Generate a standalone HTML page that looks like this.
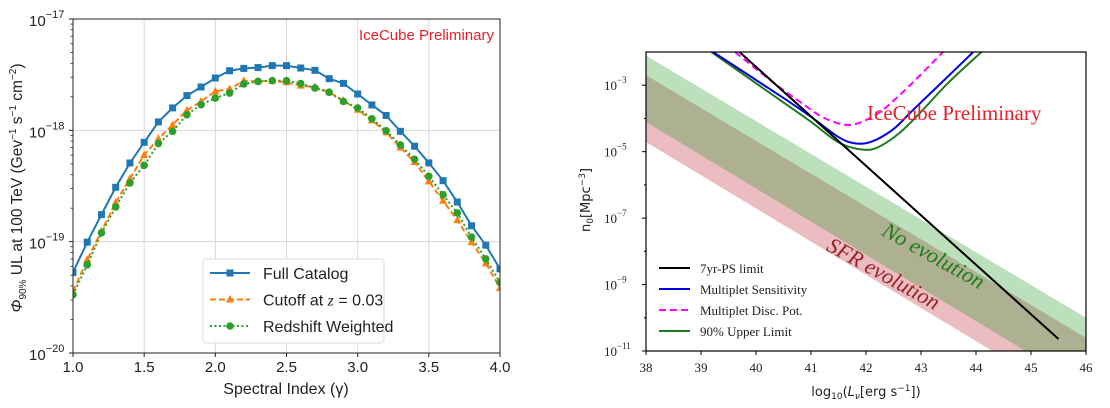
<!DOCTYPE html>
<html><head><meta charset="utf-8"><style>
body{margin:0;background:#fff;width:1110px;height:408px;overflow:hidden}
svg{position:absolute;left:0;top:0}
</style></head><body>
<svg id="fig" width="1110" height="408"></svg>
<script>
// ---- Left chart data ----
const gammaValues = [1.0,1.1,1.2,1.3,1.4,1.5,1.6,1.7,1.8,1.9,2.0,2.1,2.2,2.3,2.4,2.5,2.6,2.7,2.8,2.9,3.0,3.1,3.2,3.3,3.4,3.5,3.6,3.7,3.8,3.9,4.0];
const fullCatalog = [5.3e-20,9.9e-20,1.75e-19,3.08e-19,5.09e-19,7.8e-19,1.19e-18,1.59e-18,2.05e-18,2.45e-18,2.95e-18,3.43e-18,3.6e-18,3.66e-18,3.81e-18,3.81e-18,3.63e-18,3.46e-18,2.91e-18,2.64e-18,2.12e-18,1.69e-18,1.36e-18,9.8e-19,7.2e-19,5.1e-19,3.53e-19,2.27e-19,1.39e-19,9.3e-20,5.7e-20];
const cutoffZ = [3.58e-20,6.9e-20,1.24e-19,2.25e-19,3.68e-19,6.0e-19,8.4e-19,1.12e-18,1.51e-18,1.82e-18,2.24e-18,2.35e-18,2.79e-18,2.75e-18,2.79e-18,2.7e-18,2.52e-18,2.45e-18,2.2e-18,1.85e-18,1.53e-18,1.23e-18,9.6e-19,7.0e-19,5.2e-19,3.48e-19,2.33e-19,1.56e-19,9.9e-20,6.4e-20,3.84e-20];
const redshiftWeighted = [3.34e-20,6.2e-20,1.2e-19,2.05e-19,3.37e-19,4.85e-19,7.6e-19,9.8e-19,1.38e-18,1.7e-18,1.95e-18,2.16e-18,2.61e-18,2.75e-18,2.79e-18,2.79e-18,2.63e-18,2.4e-18,2.2e-18,1.82e-18,1.59e-18,1.27e-18,9.9e-19,7.4e-19,5.5e-19,3.86e-19,2.64e-19,1.81e-19,1.1e-19,7.0e-20,4.3e-20];
const leftXTicks = [1.0,1.5,2.0,2.5,3.0,3.5,4.0];
const leftYTickExps = [-17,-18,-19,-20];
// ---- Right chart data ----
const lumXTicks = [38,39,40,41,42,43,44,45,46];
const densYTickExps = [-3,-5,-7,-9,-11];
const psLimitL = [39.7,45.5];
const psLimitN = [1e-2,2.3e-11];
const bandL = [38,46];
const noEvoUpper = [7.8e-3,1e-10];
const noEvoLower = [7.8e-5,8e-13];
const sfrUpper = [2e-3,2.5e-11];
const sfrLower = [1.95e-5,2e-13];
const sensL = [39.22,40.44,41.0,41.5,41.8,42.1,42.5,42.87,43.4,43.95];
const sensN = [1e-2,4.8e-4,1.12e-4,2.75e-5,1.78e-5,2.0e-5,4.8e-5,1.9e-4,1.32e-3,1e-2];
const ulL = [39.19,40.44,41.0,41.5,41.9,42.2,42.6,43.0,43.5,44.1];
const ulN = [1e-2,3.55e-4,7.9e-5,1.9e-5,1.17e-5,1.32e-5,3.55e-5,1.58e-4,1.2e-3,1e-2];
const discL = [39.62,40.3,40.8,41.2,41.6,41.9,42.3,42.8,43.4];
const discN = [1e-2,1.26e-3,3.16e-4,1.12e-4,6.5e-5,7.6e-5,1.78e-4,1e-3,1e-2];

const NS='http://www.w3.org/2000/svg';
const svg=document.getElementById('fig');
function mk(tag,attrs,parent,text){const e=document.createElementNS(NS,tag);for(const k in attrs)e.setAttribute(k,attrs[k]);if(text!==undefined)e.textContent=text;(parent||svg).appendChild(e);return e;}
function smooth(pts){ // catmull-rom
  let d='M'+pts[0][0]+','+pts[0][1];
  for(let i=0;i<pts.length-1;i++){const p0=pts[Math.max(0,i-1)],p1=pts[i],p2=pts[i+1],p3=pts[Math.min(pts.length-1,i+2)];
    const c1=[p1[0]+(p2[0]-p0[0])/6,p1[1]+(p2[1]-p0[1])/6],c2=[p2[0]-(p3[0]-p1[0])/6,p2[1]-(p3[1]-p1[1])/6];
    d+=` C${c1[0]},${c1[1]} ${c2[0]},${c2[1]} ${p2[0]},${p2[1]}`;}
  return d;}

// ===== LEFT =====
const L={x0:73,x1:500,y0:19,y1:353};
const lx=g=>L.x0+(g-1)/(3)*(L.x1-L.x0);
const ly=v=>L.y0+(-17-Math.log10(v))/3*(L.y1-L.y0);
const left=mk('g',{});


mk('defs',{},svg).innerHTML='<clipPath id="lc"><rect x="73" y="19" width="427" height="334"/></clipPath><clipPath id="rc"><rect x="646" y="52" width="440" height="299"/></clipPath>';
// grid
leftXTicks.forEach(t=>{const l=mk('line',{x1:lx(t),x2:lx(t),y1:L.y0,y2:L.y1,stroke:'#d8d8d8','stroke-width':1},left);});
leftYTickExps.forEach(e=>{const y=ly(Math.pow(10,e));const l=mk('line',{x1:L.x0,x2:L.x1,y1:y,y2:y,stroke:'#d8d8d8','stroke-width':1},left);});
// minor ticks
for(let e=-20;e<-17;e++)for(let m=2;m<10;m++){const y=ly(m*Math.pow(10,e));mk('line',{x1:L.x0,x2:L.x0-2.5,y1:y,y2:y,stroke:'#222','stroke-width':0.8},left);}
// series
function series(vals,color,dash,marker,name){
  const g=mk('g',{'clip-path':'url(#lc)'},left);
  
  
  const pts=gammaValues.map((x,i)=>[lx(x),ly(vals[i])]);
  mk('polyline',{points:pts.map(p=>p.join(',')).join(' '),fill:'none',stroke:color,'stroke-width':2,'stroke-dasharray':dash},g);
  pts.forEach(p=>{let m;
    if(marker==='s')m=mk('rect',{x:p[0]-3.5,y:p[1]-3.5,width:7,height:7,fill:color},g);
    else if(marker==='t')m=mk('polygon',{points:`${p[0]},${p[1]-4.5} ${p[0]+4},${p[1]+3} ${p[0]-4},${p[1]+3}`,fill:color},g);
    else m=mk('circle',{cx:p[0],cy:p[1],r:3.8,fill:color},g);
    
    });
}
series(fullCatalog,'#1f77b4','none','s','full-catalog-series');
series(cutoffZ,'#ff7f0e','6,3','t','cutoff-series');
series(redshiftWeighted,'#2ca02c','2,2.5','c','redshift-weighted-series');
mk('rect',{x:L.x0,y:L.y0,width:L.x1-L.x0,height:L.y1-L.y0,fill:'none',stroke:'#222','stroke-width':1},left);
leftXTicks.forEach(t=>{mk('line',{x1:lx(t),x2:lx(t),y1:L.y1,y2:L.y1+4,stroke:'#222'},left);
  const tx=mk('text',{x:lx(t),y:372,'font-family':'Liberation Sans, DejaVu Sans, sans-serif','font-size':15,'text-anchor':'middle',fill:'#222'},left,t.toFixed(1));
  });
leftYTickExps.forEach(e=>{const y=ly(Math.pow(10,e));mk('line',{x1:L.x0-4,x2:L.x0,y1:y,y2:y,stroke:'#222'},left);
  const tx=mk('text',{x:29,y:y+7,'font-family':'Liberation Sans, DejaVu Sans, sans-serif','font-size':15,fill:'#222'},left);
  
  tx.innerHTML='10<tspan dy="-8" font-size="11">−'+(-e)+'</tspan>';});
let t=mk('text',{x:286,y:394,'font-family':'Liberation Sans, DejaVu Sans, sans-serif','font-size':16,'text-anchor':'middle',fill:'#222'},left,'Spectral Index (γ)');

t=mk('text',{x:0,y:0,transform:'translate(22,188) rotate(-90)','font-family':'Liberation Sans, DejaVu Sans, sans-serif','font-size':15.5,'text-anchor':'middle',fill:'#222'},left);
t.innerHTML='<tspan font-style="italic">Φ</tspan><tspan font-size="10" dy="4">90%</tspan><tspan dy="-4"> UL at 100 TeV (Gev</tspan><tspan font-size="10" dy="-6">−1</tspan><tspan dy="6"> s</tspan><tspan font-size="10" dy="-6">−1</tspan><tspan dy="6"> cm</tspan><tspan font-size="10" dy="-6">−2</tspan><tspan dy="6">)</tspan>';

t=mk('text',{x:494,y:40,'font-family':'Liberation Sans, DejaVu Sans, sans-serif','font-size':15,'text-anchor':'end',fill:'#e8202a'},left,'IceCube Preliminary');

// legend
const lg=mk('g',{},left);
mk('rect',{x:203,y:259,width:181,height:84,rx:3,fill:'#fff','fill-opacity':0.9,stroke:'#ddd'},lg);
[['Full Catalog','#1f77b4','none','s'],['Cutoff at ','#ff7f0e','6,3','t'],['Redshift Weighted','#2ca02c','2,2.5','c']].forEach((r,i)=>{
  const y=273+i*26.5;const e=mk('g',{},lg);
  mk('line',{x1:210,x2:250,y1:y,y2:y,stroke:r[1],'stroke-width':2,'stroke-dasharray':r[2]},e);
  if(r[3]==='s')mk('rect',{x:226.5,y:y-3.5,width:7,height:7,fill:r[1]},e);
  else if(r[3]==='t')mk('polygon',{points:`230,${y-4.5} 234,${y+3} 226,${y+3}`,fill:r[1]},e);
  else mk('circle',{cx:230,cy:y,r:3.8,fill:r[1]},e);
  const tx=mk('text',{x:263,y:y+6,'font-family':'Liberation Sans, DejaVu Sans, sans-serif','font-size':16,fill:'#222'},e,r[0]);
  if(i===1)tx.innerHTML='Cutoff at <tspan font-style="italic" font-family="Liberation Serif, serif">z</tspan> = 0.03';
});

// ===== RIGHT =====
const R={x0:646,x1:1086,y0:52,y1:351};
const rx=v=>R.x0+(v-38)/8*(R.x1-R.x0);
const ry=n=>R.y1-(Math.log10(n)+11)/9*(R.y1-R.y0);
const right=mk('g',{});


const rcG=mk('g',{'clip-path':'url(#rc)'},right);
function band(up,lo,color,name){const p=mk('polygon',{points:`${rx(bandL[0])},${ry(up[0])} ${rx(bandL[1])},${ry(up[1])} ${rx(bandL[1])},${ry(lo[1])} ${rx(bandL[0])},${ry(lo[0])}`,fill:color,'fill-opacity':0.32},rcG);
  }
band(sfrUpper,sfrLower,'#c0303a','sfr-evolution-band');
band(noEvoUpper,noEvoLower,'#2e9a2e','no-evolution-band');
function curve(Ls,Ns,color,dash,w,name){const p=mk('path',{d:smooth(Ls.map((l,i)=>[rx(l),ry(Ns[i])])),fill:'none',stroke:color,'stroke-width':w,'stroke-dasharray':dash},rcG);
  }
curve(ulL,ulN,'#1d7a1d','none',2,'upper-limit-curve');
curve(sensL,sensN,'#0000e0','none',2,'sensitivity-curve');
curve(discL,discN,'#ff00ff','7,4',2,'discovery-potential-curve');
let pl=mk('line',{x1:rx(psLimitL[0]),y1:ry(psLimitN[0]),x2:rx(psLimitL[1]),y2:ry(psLimitN[1]),stroke:'#000','stroke-width':2},rcG);

mk('rect',{x:R.x0,y:R.y0,width:R.x1-R.x0,height:R.y1-R.y0,fill:'none',stroke:'#000','stroke-width':1.2},right);
lumXTicks.forEach(v=>{mk('line',{x1:rx(v),x2:rx(v),y1:R.y1,y2:R.y1+4,stroke:'#000'},right);
  const tx=mk('text',{x:rx(v),y:372,'font-family':'Liberation Serif, serif','font-size':13,'text-anchor':'middle',fill:'#222'},right,String(v));
  });
for(let e=-11;e<-2;e++){const y=ry(Math.pow(10,e));mk('line',{x1:R.x0-(e%2?4:2),x2:R.x0,y1:y,y2:y,stroke:'#000'},right);}
densYTickExps.forEach(e=>{const y=ry(Math.pow(10,e));
  const tx=mk('text',{x:604,y:y+5,'font-family':'Liberation Serif, serif','font-size':13,fill:'#222'},right);
  tx.innerHTML='10<tspan dy="-7" font-size="9">−'+(-e)+'</tspan>';
  });
t=mk('text',{x:866,y:396,'font-family':'DejaVu Sans, sans-serif','font-size':13,'text-anchor':'middle',fill:'#222'},right);
t.innerHTML='log<tspan font-size="9" dy="3">10</tspan><tspan dy="-3">(</tspan><tspan font-style="italic">L</tspan><tspan font-size="9" dy="3" font-style="italic">ν</tspan><tspan dy="-3">[erg s</tspan><tspan font-size="9" dy="-5">−1</tspan><tspan dy="5">])</tspan>';

t=mk('text',{x:0,y:0,transform:'translate(590,200) rotate(-90)','font-family':'DejaVu Sans, sans-serif','font-size':13,'text-anchor':'middle',fill:'#222'},right);
t.innerHTML='n<tspan font-size="9" dy="3">0</tspan><tspan dy="-3">[Mpc</tspan><tspan font-size="9" dy="-5">−3</tspan><tspan dy="5">]</tspan>';

t=mk('text',{x:867,y:120,'font-family':'Liberation Serif, serif','font-size':21,fill:'#e8202a'},right,'IceCube Preliminary');

t=mk('text',{x:0,y:0,transform:'translate(930,262) rotate(29)','font-family':'Liberation Serif, serif','font-size':22,'font-style':'italic','text-anchor':'middle',fill:'#1d7a1d'},right,'No evolution');

t=mk('text',{x:0,y:0,transform:'translate(880,280) rotate(29)','font-family':'Liberation Serif, serif','font-size':22,'font-style':'italic','text-anchor':'middle',fill:'#9a2028'},right,'SFR evolution');

const rl=mk('g',{},right);
[['7yr-PS limit','#000','none'],['Multiplet Sensitivity','#0000e0','none'],['Multiplet Disc. Pot.','#ff00ff','7,4'],['90% Upper Limit','#1d7a1d','none']].forEach((r,i)=>{
  const y=268+i*21;const e=mk('g',{},rl);
  mk('line',{x1:659,x2:690,y1:y,y2:y,stroke:r[1],'stroke-width':2,'stroke-dasharray':r[2]},e);
  mk('text',{x:700,y:y+5,'font-family':'Liberation Serif, serif','font-size':13,fill:'#222'},e,r[0]);
});
</script>
</body></html>
